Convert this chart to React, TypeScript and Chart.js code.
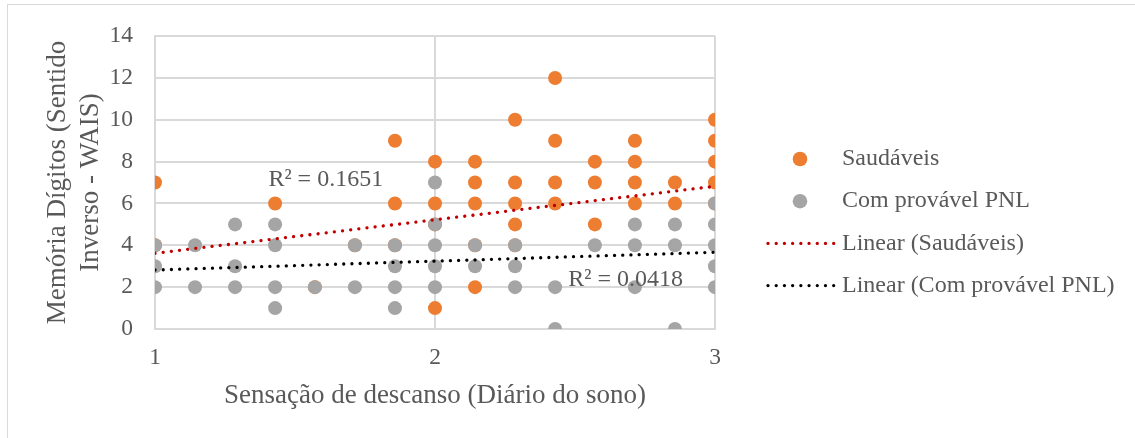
import React, { useEffect, useRef } from "react";
import { Chart, registerables } from "chart.js";

Chart.register(...registerables);

// ---- data ----
const saudaveisX = [
  1, 1, 1.429, 1.571, 1.714, 1.857, 1.857, 1.857, 2, 2, 2, 2,
  2.143, 2.143, 2.143, 2.143, 2.143, 2.286, 2.286, 2.286, 2.286, 2.286,
  2.429, 2.429, 2.429, 2.429, 2.571, 2.571, 2.571, 2.714, 2.714, 2.714, 2.714,
  2.857, 2.857, 3, 3, 3, 3, 3,
];
const saudaveisY = [
  7, 4, 6, 2, 4, 9, 6, 4, 8, 6, 5, 1,
  8, 7, 6, 4, 2, 10, 7, 6, 5, 4,
  12, 9, 7, 6, 8, 7, 5, 9, 8, 7, 6,
  7, 6, 10, 9, 8, 7, 6,
];
const pnlX = [
  1, 1, 1, 1.143, 1.143, 1.286, 1.286, 1.286, 1.429, 1.429, 1.429, 1.429,
  1.571, 1.714, 1.714, 1.857, 1.857, 1.857, 1.857, 2, 2, 2, 2, 2,
  2.143, 2.143, 2.286, 2.286, 2.286, 2.429, 2.429, 2.571,
  2.714, 2.714, 2.714, 2.857, 2.857, 2.857, 3, 3, 3, 3, 3,
];
const pnlY = [
  4, 3, 2, 4, 2, 5, 3, 2, 5, 4, 2, 1,
  2, 4, 2, 4, 3, 2, 1, 7, 5, 4, 3, 2,
  4, 3, 4, 3, 2, 2, 0, 4,
  5, 4, 2, 5, 4, 0, 6, 5, 4, 3, 2,
];
const trendX = [1, 3];
const saudaveisTrendY = [3.62, 6.82];
const pnlTrendY = [2.82, 3.67];

const seriesLabels = [
  "Saudáveis",
  "Com provável PNL",
  "Linear (Saudáveis)",
  "Linear (Com provável PNL)",
];
const r2Labels = ["R² = 0.1651", "R² = 0.0418"];
const r2X = [1.405, 2.476];
const r2Y = [7.12, 2.36];

const xTitle = "Sensação de descanso (Diário do sono)";
const yTitle = ["Memória Dígitos (Sentido", "Inverso - WAIS)"];

const FONT = "'Liberation Serif', 'Times New Roman', serif";
const TEXT = "#595959";
const GRID = "#D9D9D9";

const toPts = (xs: number[], ys: number[]) => xs.map((x, i) => ({ x, y: ys[i] }));

const overlayPlugin = {
  id: "overlay",
  afterDraw(chart: any) {
    const ctx = chart.ctx;
    const xs = chart.scales.x;
    const ys = chart.scales.y;
    ctx.save();
    ctx.font = `24px ${FONT}`;
    ctx.fillStyle = TEXT;
    ctx.textBaseline = "middle";
    ctx.textAlign = "left";
    // R² labels
    r2Labels.forEach((t, i) => {
      ctx.fillText(t, xs.getPixelForValue(r2X[i]), ys.getPixelForValue(r2Y[i]));
    });
    // legend
    const ds = chart.data.datasets;
    const rowY0 = 159;
    const rowStep = 42.2;
    ds.forEach((d: any, i: number) => {
      const y = rowY0 + i * rowStep;
      ctx.save();
      if (d.showLine) {
        ctx.strokeStyle = d.borderColor;
        ctx.lineWidth = d.borderWidth;
        ctx.lineCap = "round";
        ctx.setLineDash(d.borderDash);
        ctx.beginPath();
        ctx.moveTo(768, y);
        ctx.lineTo(835, y);
        ctx.stroke();
      } else {
        ctx.fillStyle = d.backgroundColor;
        ctx.beginPath();
        ctx.arc(800, y, 7.3, 0, Math.PI * 2);
        ctx.fill();
      }
      ctx.restore();
      ctx.fillStyle = TEXT;
      ctx.fillText(d.label, 842, y);
    });
    ctx.restore();
  },
};

export default function App() {
  const ref = useRef<HTMLCanvasElement | null>(null);

  useEffect(() => {
    if (!ref.current) return;
    const chart = new Chart(ref.current, {
      type: "scatter",
      data: {
        datasets: [
          {
            label: seriesLabels[0],
            data: toPts(saudaveisX, saudaveisY),
            backgroundColor: "#ED7D31",
            borderColor: "#ED7D31",
            borderWidth: 0,
            pointRadius: 7,
            order: 4,
          },
          {
            label: seriesLabels[1],
            data: toPts(pnlX, pnlY),
            backgroundColor: "#A5A5A5",
            borderColor: "#A5A5A5",
            borderWidth: 0,
            pointRadius: 7,
            order: 3,
          },
          {
            label: seriesLabels[2],
            data: toPts(trendX, saudaveisTrendY),
            showLine: true,
            borderColor: "#C00000",
            backgroundColor: "#C00000",
            borderWidth: 3.3,
            borderDash: [0.01, 8.2],
            borderCapStyle: "round",
            pointRadius: 0,
            order: 2,
          },
          {
            label: seriesLabels[3],
            data: toPts(trendX, pnlTrendY),
            showLine: true,
            borderColor: "#000000",
            backgroundColor: "#000000",
            borderWidth: 3.3,
            borderDash: [0.01, 8.2],
            borderCapStyle: "round",
            pointRadius: 0,
            order: 1,
          },
        ] as any,
      },
      options: {
        responsive: false,
        animation: false,
        layout: { padding: { top: 33, right: 420, left: 0, bottom: 0 } },
        plugins: { legend: { display: false }, tooltip: { enabled: false } },
        scales: {
          x: {
            type: "linear",
            min: 1,
            max: 3,
            ticks: {
              stepSize: 1,
              padding: 15,
              color: TEXT,
              font: { family: FONT, size: 23.5 },
            },
            grid: { color: GRID, lineWidth: 2, drawTicks: false },
            border: { color: GRID, width: 2 },
            title: {
              display: true,
              text: xTitle,
              color: TEXT,
              font: { family: FONT, size: 27 },
              padding: { top: 0, bottom: 26 },
            },
            afterFit: (s: any) => {
              s.height = 109;
            },
          },
          y: {
            min: 0,
            max: 14,
            ticks: {
              stepSize: 2,
              padding: 22,
              color: TEXT,
              font: { family: FONT, size: 23.5 },
            },
            grid: { color: GRID, lineWidth: 2, drawTicks: false },
            border: { color: GRID, width: 2 },
            title: {
              display: true,
              text: yTitle,
              color: TEXT,
              font: { family: FONT, size: 27, lineHeight: 1.24 },
              padding: { top: 40.75, bottom: 0 },
            },
            afterFit: (s: any) => {
              s.width = 155;
            },
          },
        },
      } as any,
      plugins: [overlayPlugin],
    });
    return () => chart.destroy();
  }, []);

  return (
    <div
      style={{
        position: "fixed",
        left: 0,
        top: 0,
        width: 1135,
        height: 438,
        overflow: "hidden",
        background: "#ffffff",
      }}
    >
      <div
        style={{
          position: "absolute",
          left: 7,
          top: 4,
          width: 1140,
          height: 450,
          border: "1px solid #D9D9D9",
          boxSizing: "border-box",
        }}
      />
      <canvas
        ref={ref}
        width={1135}
        height={438}
        style={{ position: "absolute", left: 0, top: 0, width: 1135, height: 438 }}
      />
    </div>
  );
}
